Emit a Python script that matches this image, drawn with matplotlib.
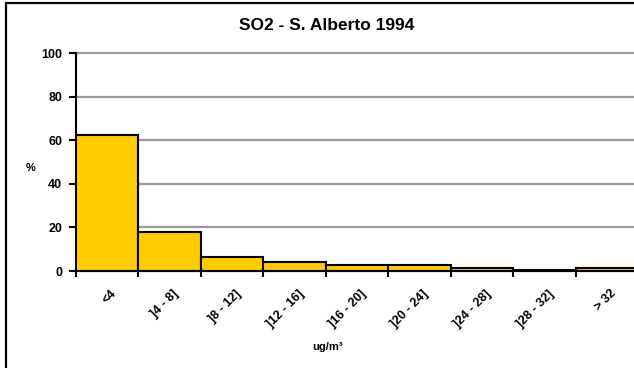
import matplotlib
matplotlib.use('Agg')
import matplotlib.pyplot as plt
from matplotlib.patches import Rectangle
import numpy as np

# SO2 frequency distribution, S. Alberto 1994
classes = ["<4", "]4 - 8]", "]8 - 12]", "]12 - 16]", "]16 - 20]",
           "]20 - 24]", "]24 - 28]", "]28 - 32]", "> 32"]
percent = [62.5, 18.0, 6.5, 4.2, 2.8, 2.7, 1.5, 0.4, 1.4]
y_ticks = [0, 20, 40, 60, 80, 100]

plt.rcParams['font.family'] = ['Liberation Sans', 'DejaVu Sans']

fig = plt.figure(figsize=(6.34, 3.68), dpi=100)
ax = fig.add_axes([76 / 634, 1 - 271 / 368, 562 / 634, 218 / 368])

x = np.arange(len(classes))
ax.bar(x, percent, width=1.0, align='edge', color='#FFCC00',
       edgecolor='black', linewidth=1.5, zorder=3)

ax.set_xlim(0, len(classes))
ax.set_ylim(0, 100)
ax.set_yticks(y_ticks)
ax.set_yticklabels([str(v) for v in y_ticks], fontsize=9, fontweight='bold')
ax.yaxis.grid(True, color='#9a9a9a', linewidth=1.6, zorder=0)
for gl in ax.get_ygridlines():
    gl.set_clip_on(False)
ax.set_axisbelow(True)

# ticks at class boundaries, labels at class centres
ax.set_xticks(np.arange(len(classes) + 1))
ax.set_xticklabels([])
ax.set_xticks(x + 0.55, minor=True)
ax.set_xticklabels(classes, minor=True, fontsize=9, fontweight='bold',
                   rotation=45, ha='right', va='top', rotation_mode='anchor')
ax.tick_params(axis='x', which='minor', length=0, pad=12)
ax.tick_params(axis='x', which='major', length=4, width=1.5, direction='out')
ax.tick_params(axis='y', length=5, width=1.5, direction='out', pad=5)

for s in ['top', 'right']:
    ax.spines[s].set_visible(False)
ax.spines['left'].set_linewidth(1.5)
ax.spines['bottom'].set_linewidth(1.5)
ax.spines['bottom'].set_zorder(4)

fig.text(327 / 634, 1 - 25 / 368, "SO2 - S. Alberto 1994", ha='center', va='center',
         fontsize=12.5, fontweight='bold')
fig.text(31 / 634, 1 - 168 / 368, "%", ha='center', va='center',
         fontsize=8, fontweight='bold')
fig.text(328 / 634, 1 - 347 / 368, "ug/m³", ha='center', va='center',
         fontsize=8, fontweight='bold')

# outer chart frame (cut off at right and bottom)
fig.patches.append(Rectangle((6 / 634, -0.05), 1.0, 1.05 - 3 / 368,
                             transform=fig.transFigure, fill=False,
                             edgecolor='black', linewidth=1.6))

fig.savefig('out.png', dpi=100)
